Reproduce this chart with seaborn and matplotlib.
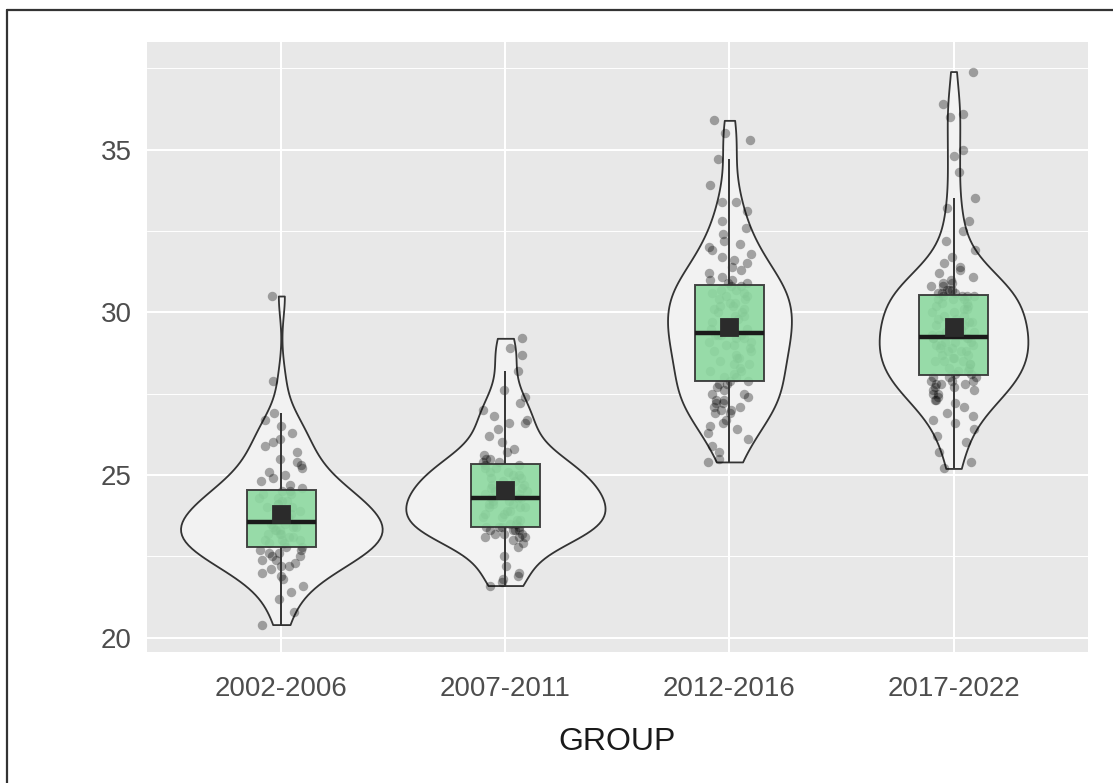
import numpy as np
import pandas as pd
import matplotlib.pyplot as plt
from matplotlib.lines import Line2D
from matplotlib.ticker import MultipleLocator
import seaborn as sns

np.random.seed(7)  # for the strip jitter only

# Values (one list per period)
groups = ["2002-2006", "2007-2011", "2012-2016", "2017-2022"]

g2002 = [20.4, 20.8, 21.2, 21.4, 21.6, 21.8, 21.9, 22.0, 22.1, 22.2,
         22.2, 22.3, 22.4, 22.4, 22.5, 22.5, 22.6, 22.6, 22.7, 22.7,
         22.8, 22.8, 22.9, 22.9, 23.0, 23.0, 23.0, 23.1, 23.1, 23.2,
         23.2, 23.2, 23.3, 23.3, 23.3, 23.4, 23.4, 23.4, 23.5, 23.5,
         23.6, 23.6, 23.7, 23.7, 23.8, 23.8, 23.9, 23.9, 24.0, 24.0,
         24.1, 24.1, 24.2, 24.2, 24.3, 24.3, 24.4, 24.4, 24.5, 24.5,
         24.6, 24.7, 24.8, 24.9, 25.0, 25.1, 25.2, 25.3, 25.4, 25.5,
         25.7, 25.9, 26.0, 26.1, 26.3, 26.5, 26.7, 26.9, 27.9, 30.5]

g2007 = [21.6, 21.7, 21.8, 21.9, 22.0, 22.2, 22.5, 22.8, 22.9, 23.0,
         23.1, 23.1, 23.1, 23.2, 23.2, 23.2, 23.3, 23.3, 23.3, 23.3,
         23.4, 23.4,
         23.4, 23.4, 23.5, 23.5, 23.6, 23.6, 23.7, 23.7, 23.8, 23.8,
         23.9, 23.9, 24.0, 24.0, 24.0, 24.1, 24.1, 24.1, 24.2, 24.2,
         24.3, 24.3,
         24.3, 24.4, 24.4, 24.4, 24.5, 24.5, 24.6, 24.6, 24.7, 24.7,
         24.8, 24.8, 24.9, 24.9, 25.0, 25.0, 25.1, 25.1, 25.2, 25.2,
         25.3, 25.3,
         25.4, 25.4, 25.5, 25.5, 25.6, 25.7, 25.8, 26.0, 26.2, 26.4,
         26.6, 26.6, 26.7, 26.8, 27.0, 27.2, 27.4, 27.6, 28.2, 28.7,
         28.9, 29.2]

g2012 = [25.4, 25.5, 25.7, 25.9, 26.1, 26.3, 26.4, 26.5, 26.6, 26.7,
         26.9, 26.9, 27.0, 27.0, 27.1, 27.1, 27.2, 27.2, 27.3, 27.3,
         27.4, 27.5, 27.5, 27.6, 27.7, 27.8, 27.8,
         27.9, 27.9, 28.0, 28.0, 28.1, 28.2, 28.2, 28.3, 28.4, 28.4,
         28.5, 28.6, 28.6, 28.7, 28.8, 28.8, 28.9, 29.0, 29.0, 29.1,
         29.1, 29.2, 29.2, 29.3, 29.3, 29.3, 29.3,
         29.4, 29.5, 29.5, 29.6, 29.7, 29.7, 29.8, 29.9, 29.9, 30.0,
         30.0, 30.1, 30.1, 30.2, 30.2, 30.3, 30.3, 30.4, 30.4, 30.5,
         30.5, 30.6, 30.6, 30.7, 30.7, 30.8, 30.8,
         30.9, 30.9, 31.0, 31.0, 31.1, 31.2, 31.3, 31.4, 31.5, 31.6,
         31.7, 31.8, 31.9, 32.0, 32.1, 32.2, 32.4, 32.6, 32.8, 33.1,
         33.4, 33.4, 33.9, 34.7, 35.3, 35.5, 35.9]

g2017 = [25.2, 25.4, 25.7, 26.0, 26.2, 26.4, 26.6, 26.7, 26.8, 26.9,
         27.1, 27.2, 27.3, 27.3, 27.4, 27.5, 27.5, 27.6, 27.6, 27.7,
         27.7, 27.8, 27.8, 27.8, 27.9, 27.9, 27.9, 28.0, 28.0, 28.0,
         28.1, 28.1, 28.2, 28.2, 28.3, 28.3, 28.4, 28.4, 28.5, 28.5,
         28.5, 28.6, 28.6, 28.7, 28.7, 28.8, 28.8, 28.8, 28.9, 28.9,
         29.0, 29.0, 29.0, 29.1, 29.1, 29.1, 29.2, 29.2, 29.2, 29.2,
         29.3, 29.3, 29.3, 29.4, 29.4, 29.5, 29.5, 29.6, 29.6, 29.7,
         29.7, 29.8, 29.8, 29.9, 29.9, 30.0, 30.0, 30.1, 30.1, 30.2,
         30.2, 30.3, 30.3, 30.4, 30.4, 30.4, 30.5, 30.5, 30.5, 30.5,
         30.6, 30.6, 30.6, 30.7, 30.7, 30.7, 30.8, 30.8, 30.9, 30.9,
         31.0, 31.1, 31.2, 31.3, 31.4, 31.5, 31.7, 31.9, 32.2, 32.5,
         32.8, 33.2, 33.5, 34.3, 34.8, 35.0, 36.0, 36.1, 36.4, 37.4]

y_ticks = [20, 25, 30, 35]

df = pd.concat([
    pd.DataFrame({"GROUP": name, "value": vals})
    for name, vals in zip(groups, [g2002, g2007, g2012, g2017])
], ignore_index=True)

sns.set_style("white")
plt.rcParams["font.family"] = ["Liberation Sans", "DejaVu Sans"]

fig = plt.figure(figsize=(11.13, 7.83), dpi=100)
ax = fig.add_axes([0.132, 0.167, 0.8455, 0.779])
ax.set_facecolor("#E8E8E8")

# --- violins ---
sns.violinplot(data=df, x="GROUP", y="value", order=groups, ax=ax,
               color="#F2F2F2", saturation=1, linecolor="#333333",
               linewidth=1.3, inner=None, cut=0, width=0.9,
               density_norm="area", bw_method="silverman", bw_adjust=0.85)

# --- jittered points ---
sns.stripplot(data=df, x="GROUP", y="value", order=groups, ax=ax,
              color="black", alpha=0.33, size=6.8, jitter=0.1,
              linewidth=0, zorder=2)

# --- boxes ---
sns.boxplot(data=df, x="GROUP", y="value", order=groups, ax=ax,
            color="#8DD9A0", saturation=1, width=0.31, showfliers=False,
            showcaps=False, linecolor="#333333", linewidth=1.4,
            boxprops=dict(alpha=0.9, zorder=3),
            whiskerprops=dict(zorder=3, color="#333333"),
            medianprops=dict(linewidth=3.2, color="#1A1A1A", zorder=4))

# --- mean squares ---
sns.pointplot(data=df, x="GROUP", y="value", order=groups, ax=ax,
              estimator="mean", errorbar=None, linestyle="none",
              marker="s", markersize=11, color="#2B2B2B", zorder=5)

ax.set_xlim(-0.6, 3.6)
ax.set_ylim(19.55, 38.3)
ax.set_yticks(y_ticks)
ax.yaxis.set_minor_locator(MultipleLocator(2.5))
ax.grid(which="major", color="white", linewidth=1.5)
ax.grid(which="minor", axis="y", color="white", linewidth=0.7)
ax.set_axisbelow(True)
for s in ax.spines.values():
    s.set_visible(False)

ax.tick_params(axis="both", which="major", length=6, width=1.4,
               color="#333333", labelcolor="#4D4D4D", labelsize=20)
ax.tick_params(axis="x", pad=11)
ax.tick_params(axis="y", pad=5)
ax.tick_params(which="minor", length=0)
ax.set_ylabel("")
ax.set_xlabel("GROUP", fontsize=23, color="#1A1A1A", labelpad=18)

# frame of the original screenshot (left and top edges)
fig.add_artist(Line2D([7 / 1113, 7 / 1113], [0, 1 - 10 / 783],
                      color="#333333", linewidth=1.6))
fig.add_artist(Line2D([7 / 1113, 1], [1 - 10 / 783, 1 - 10 / 783],
                      color="#333333", linewidth=1.6))

fig.savefig("out.png", dpi=100)
